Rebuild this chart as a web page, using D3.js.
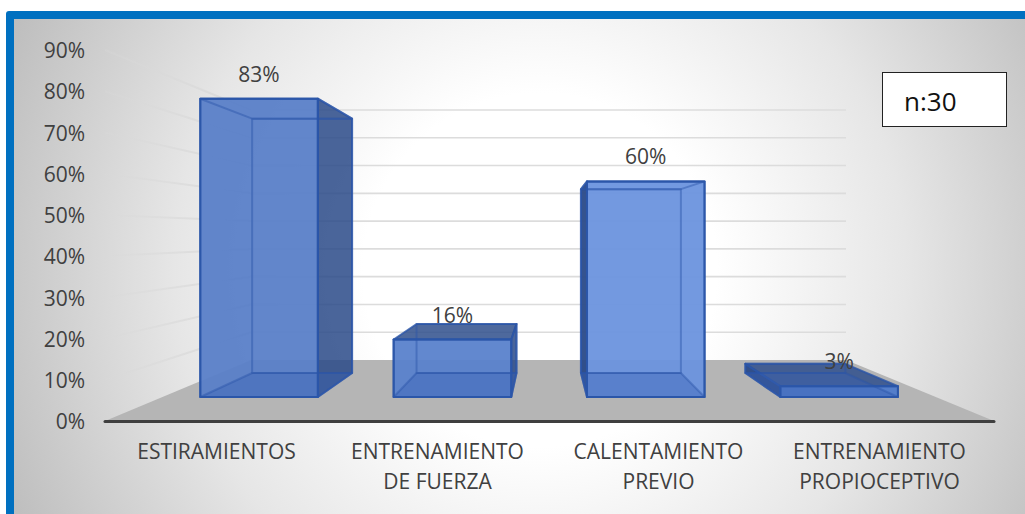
<!DOCTYPE html>
<html><head><meta charset="utf-8">
<script src="https://cdn.jsdelivr.net/npm/d3@7"></script>
<style>html,body{margin:0;padding:0;background:#fff}svg{display:block}text{font-family:"Open Sans",sans-serif}</style>
</head><body><svg id="c" width="1025" height="514"></svg>
<script>
const categories = [["ESTIRAMIENTOS"],["ENTRENAMIENTO","DE FUERZA"],["CALENTAMIENTO","PREVIO"],["ENTRENAMIENTO","PROPIOCEPTIVO"]];
const values = [83,16,60,3];
const valueLabels = ["83%","16%","60%","3%"];
const yTicks = [0,10,20,30,40,50,60,70,80,90];
const sampleNote = "n:30";
const frontFills = ["#5a7fc8","#5a82cc","#6b94de","#4f7bcb"];

const svg = d3.select("#c");
const defs = svg.append("defs");
const bg = defs.append("radialGradient").attr("id","bg").attr("gradientUnits","userSpaceOnUse")
  .attr("cx",540).attr("cy",270).attr("r",590);
[[0,"#fff"],[.3,"#fff"],[.62,"#e6e6e6"],[1,"#bcbcbc"]].forEach(s=>bg.append("stop").attr("offset",s[0]).attr("stop-color",s[1]));
const fade = defs.append("linearGradient").attr("id","fade").attr("gradientUnits","userSpaceOnUse")
  .attr("x1",105).attr("y1",0).attr("x2",251).attr("y2",0);
[[0,.25],[1,1]].forEach(s=>fade.append("stop").attr("offset",s[0]).attr("stop-color","#d9d9d9").attr("stop-opacity",s[1]));

svg.append("rect").attr("x",6).attr("y",11).attr("width",1040).attr("height",520).attr("rx",3).attr("fill","#0070c0");
svg.append("rect").attr("x",14).attr("y",19).attr("width",1011).attr("height",495).attr("fill","url(#bg)");

// 3-D frame: front plane of the floor and back wall
const yFront = d3.scaleLinear().domain([0,90]).range([421,50]);
const yBack  = d3.scaleLinear().domain([0,90]).range([360,110]);
const xFront = d3.scaleLinear().domain([0,1]).range([105,994]);
const xBack  = d3.scaleLinear().domain([0,1]).range([251,846]);
const band = d3.scaleBand().domain(d3.range(categories.length)).range([0,1]).paddingInner(.392).paddingOuter(.196);
const px = (u,d)=>d3.interpolateNumber(xFront(u),xBack(u))(d);
const py = (v,d)=>d3.interpolateNumber(yFront(v),yBack(v))(d);
const pt = (u,d,v)=>[px(u,d),py(v,d)];
const line = d3.line();
const DF=.393, DB=.787;

// floor
svg.append("path").attr("d",line([pt(0,0,0),pt(0,1,0),pt(1,1,0),pt(1,0,0)])+"Z").attr("fill","#b5b5b5");

// walls
const grid = svg.append("g").attr("fill","none");
yTicks.slice(1).forEach(t=>{
  grid.append("path").attr("d",line([pt(0,0,t),pt(0,1,t)])).attr("stroke","url(#fade)").attr("stroke-width",2);
  grid.append("path").attr("d",line([pt(0,1,t),pt(1,1,t)])).attr("stroke","#dcdcdc").attr("stroke-width",1.6);
});

// bars
const EDGE="#2a55a8";
values.forEach((v,i)=>{
  const a=band(i), b=a+band.bandwidth();
  const g=svg.append("g").attr("stroke",EDGE).attr("stroke-width",2).attr("stroke-linejoin","round");
  const face=(pts,fill,op,sop=.8)=>g.append("path").attr("d",line(pts)+"Z").attr("fill",fill).attr("fill-opacity",op).attr("stroke-opacity",sop);
  const fl=pt(a,DF,0), fr=pt(b,DF,0), bl=pt(a,DB,0), br=pt(b,DB,0);
  const tfl=pt(a,DF,v), tfr=pt(b,DF,v), tbl=pt(a,DB,v), tbr=pt(b,DB,v);
  const topSeen = tbl[1] < tfl[1];
  // outward side faces are dark
  if (br[0] > fr[0]) face([fr,br,tbr,tfr],"#2a4a88",.85);
  if (bl[0] < fl[0]) face([fl,bl,tbl,tfl],"#2a4a88",.95);
  if (topSeen) face([tfl,tfr,tbr,tbl],"#2f4f8c",.85);
  face([fl,fr,tfr,tfl],frontFills[i],.95);
  // box interior showing through the front
  face([fl,fr,br,bl],"#3a62b4",.4,.45);
  face([bl,br,tbr,tbl],"none",0,.45);
  if (!topSeen) face([tfl,tfr,tbr,tbl],"none",0,.45);
  face([fl,fr,tfr,tfl],"none",0,.9);
});

// axes
const yAxis = d3.axisLeft(yFront).tickValues(yTicks).tickFormat(d=>d+"%").tickSize(0).tickPadding(0);
const ay = svg.append("g").attr("transform","translate(85,1)").call(yAxis);
ay.select(".domain").remove();
ay.selectAll("text").attr("font-size",21).attr("fill","#404040").attr("font-family",'"Open Sans",sans-serif');

svg.append("path").attr("d",line([pt(0,0,0),pt(1,0,0)])).attr("transform","translate(0,.6)")
  .attr("stroke","#3f3f3f").attr("stroke-width",3).attr("stroke-linecap","round");

const xCat = d3.scaleBand().domain(d3.range(categories.length)).range([106,990]);
categories.forEach((lines,i)=>{
  const t=svg.append("text").attr("text-anchor","middle").attr("font-size",21).attr("fill","#404040");
  lines.forEach((s,j)=>t.append("tspan").attr("x",xCat(i)+xCat.bandwidth()/2).attr("y",459+j*30).text(s));
});

// value labels
values.forEach((v,i)=>{
  const c=band(i)+band.bandwidth()/2;
  svg.append("text").attr("x",px(c,DF)).attr("y",py(v,DF)-17).attr("text-anchor","middle")
    .attr("font-size",21).attr("fill","#404040").text(valueLabels[i]);
});

// note
svg.append("rect").attr("x",882.5).attr("y",72.5).attr("width",124).attr("height",54).attr("fill","#fff").attr("stroke","#222").attr("stroke-width",1);
svg.append("text").attr("x",904).attr("y",111).attr("font-size",26).attr("fill","#111").text(sampleNote);
</script></body></html>
